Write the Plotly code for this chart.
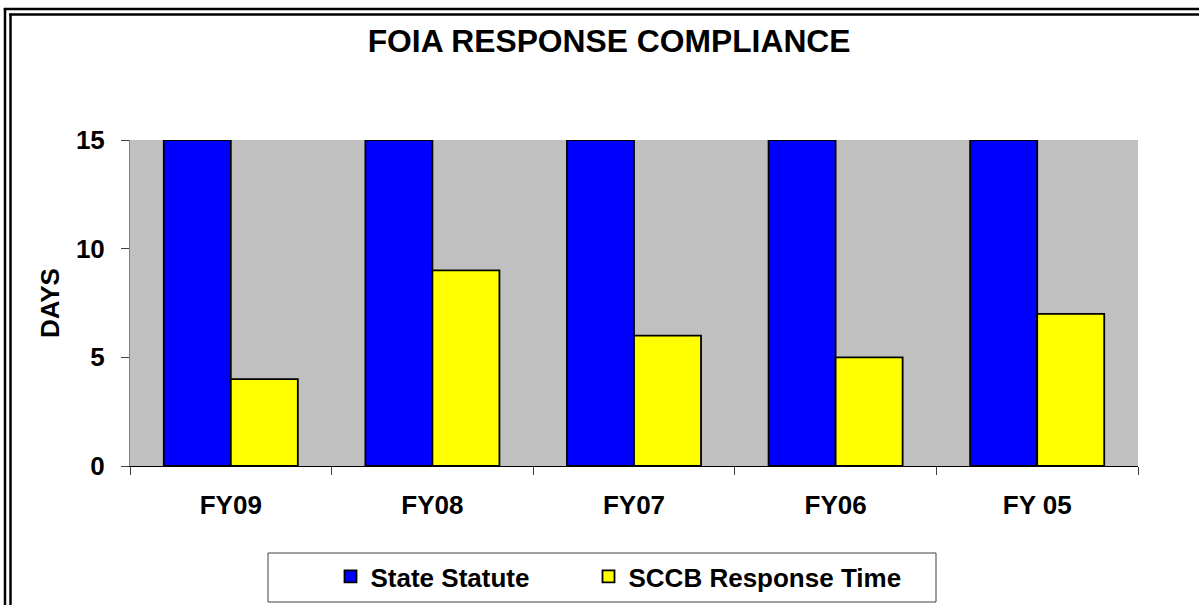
import plotly.graph_objects as go

categories = ["FY09", "FY08", "FY07", "FY06", "FY 05"]
state_statute = [15, 15, 15, 15, 15]
sccb_response = [4, 9, 6, 5, 7]
y_ticks = [0, 5, 10, 15]

W, H = 1199, 605
L, R, T, B = 130, 61, 140, 139
PW, PH = W - L - R, H - T - B

def px(x):
    return (x - L) / PW

def py(y):
    return (H - B - y) / PH

def cx(x):
    return x / W

def cy(y):
    return 1 - y / H

FONT = "Liberation Sans, Arial, sans-serif"
FS = 26

fig = go.Figure()
fig.add_trace(go.Bar(
    x=categories, y=state_statute, name="State Statute", legend="legend",
    marker=dict(color="#0000FF", line=dict(color="black", width=1.8)),
))
fig.add_trace(go.Bar(
    x=categories, y=sccb_response, name="SCCB Response Time", legend="legend2",
    marker=dict(color="#FFFF00", line=dict(color="black", width=1.8)),
))

shapes = [
    # legend frame
    dict(type="rect", xref="paper", yref="paper",
         x0=px(268), x1=px(936), y0=py(602), y1=py(553),
         line=dict(color="#404040", width=1), fillcolor="rgba(0,0,0,0)"),
    # double outer border (left and top)
    dict(type="line", xref="paper", yref="paper",
         x0=px(5), x1=px(5), y0=py(8), y1=py(700),
         line=dict(color="black", width=2.5)),
    dict(type="line", xref="paper", yref="paper",
         x0=px(10.5), x1=px(10.5), y0=py(13.5), y1=py(700),
         line=dict(color="black", width=2.5)),
    dict(type="line", xref="paper", yref="paper",
         x0=px(3.8), x1=px(1300), y0=py(9), y1=py(9),
         line=dict(color="black", width=2.5)),
    dict(type="line", xref="paper", yref="paper",
         x0=px(9.3), x1=px(1300), y0=py(14.5), y1=py(14.5),
         line=dict(color="black", width=2.5)),
]

legend_common = dict(
    orientation="h",
    xref="container", yref="container",
    xanchor="left", yanchor="top",
    bgcolor="rgba(0,0,0,0)", borderwidth=0,
    font=dict(family=FONT, size=FS, color="black", weight="bold"),
)

fig.update_layout(
    width=W, height=H,
    margin=dict(l=L, r=R, t=T, b=B, autoexpand=False),
    paper_bgcolor="white",
    plot_bgcolor="#C0C0C0",
    barmode="group",
    bargap=0.335,
    bargroupgap=0,
    font=dict(family=FONT, color="black", size=FS, weight="bold"),
    title=dict(
        text="FOIA RESPONSE COMPLIANCE",
        x=0.508, xanchor="center", xref="container",
        y=cy(41), yanchor="middle", yref="container",
        font=dict(family=FONT, size=31.8, color="black", weight="bold"),
    ),
    xaxis=dict(
        range=[-0.5, 4.5],
        showline=True, linecolor="black", linewidth=1,
        ticks="outside", tickson="boundaries", ticklen=8, tickcolor="#404040",
        showgrid=False, zeroline=False,
        tickfont=dict(family=FONT, size=FS, color="black", weight="bold"),
        ticklabelstandoff=16,
    ),
    yaxis=dict(
        range=[0, 15],
        tickvals=y_ticks,
        showline=True, linecolor="#808080", linewidth=1,
        ticks="outside", ticklen=8, tickcolor="#404040",
        showgrid=False, zeroline=False,
        tickfont=dict(family=FONT, size=FS, color="black", weight="bold"),
        ticklabelstandoff=11,
        title=dict(text="DAYS", standoff=8,
                   font=dict(family=FONT, size=FS, color="black", weight="bold")),
    ),
    legend=dict(x=cx(330.5), y=cy(553), **legend_common),
    legend2=dict(x=cx(588.5), y=cy(553), **legend_common),
    shapes=shapes,
    showlegend=True,
)

fig.write_html(
    "out.html",
    config={"displayModeBar": False},
    post_script="document.body.style.margin='0px';document.body.style.padding='0px';",
)
